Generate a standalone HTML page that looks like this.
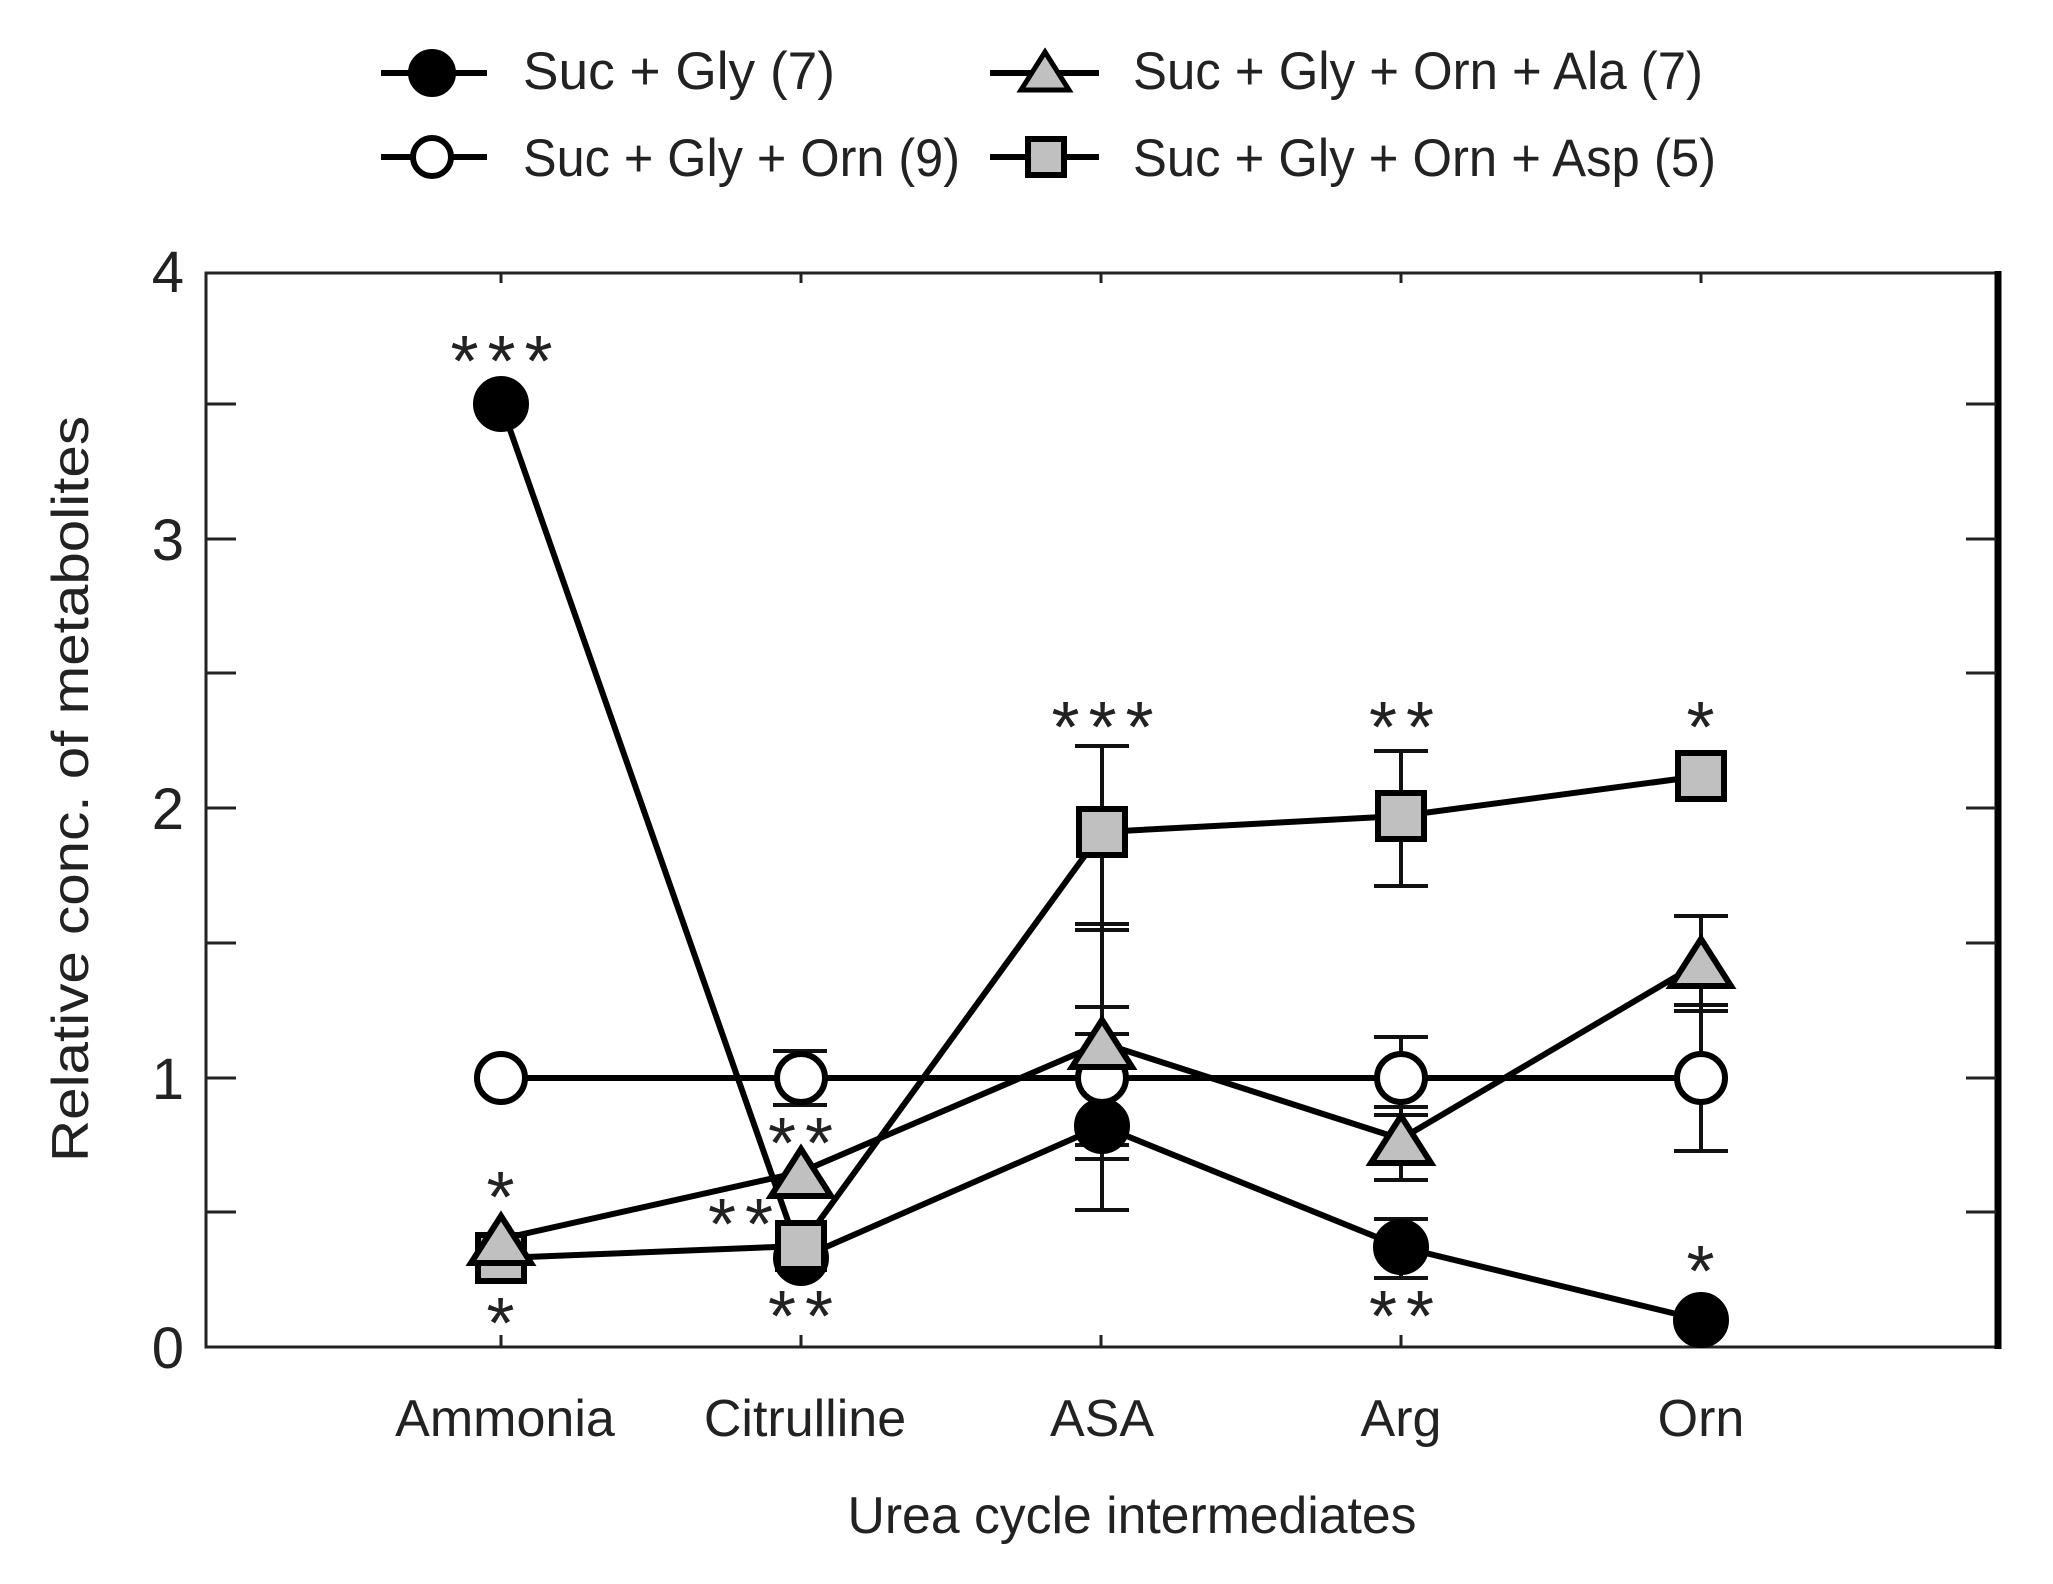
<!DOCTYPE html>
<html><head><meta charset="utf-8"><style>
html,body{margin:0;padding:0;background:#fff}
svg{display:block}
text{font-family:"Liberation Sans",Arial,sans-serif;fill:#222}
.st{font-size:72px;letter-spacing:9px;fill:#111}
</style></head><body>
<svg width="2053" height="1584" viewBox="0 0 2053 1584" xmlns="http://www.w3.org/2000/svg">
<!-- legend -->
<g stroke="#000" stroke-width="6">
<line x1="381" y1="73" x2="487" y2="73"/><circle cx="432" cy="73" r="21" fill="#000"/>
<line x1="381" y1="157" x2="487" y2="157"/><circle cx="432" cy="157" r="19" fill="#fff"/>
<line x1="990" y1="73" x2="1099" y2="73"/><polygon points="1045,52 1069,90 1021,90" fill="#c0c0c0" stroke-width="5"/>
<line x1="990" y1="157" x2="1099" y2="157"/><rect x="1028" y="139" width="36" height="36" fill="#c0c0c0"/>
</g>
<g font-size="53">
<text x="523" y="89" textLength="312" lengthAdjust="spacingAndGlyphs">Suc + Gly (7)</text>
<text x="523" y="176" textLength="437" lengthAdjust="spacingAndGlyphs">Suc + Gly + Orn (9)</text>
<text x="1133" y="89" textLength="570" lengthAdjust="spacingAndGlyphs">Suc + Gly + Orn + Ala (7)</text>
<text x="1133" y="176" textLength="583" lengthAdjust="spacingAndGlyphs">Suc + Gly + Orn + Asp (5)</text>
</g>
<!-- axes -->
<g stroke="#222" stroke-width="3" fill="none">
<rect x="206" y="273" width="1792" height="1074"/>
<line x1="1998" y1="271" x2="1998" y2="1349" stroke-width="7" stroke="#000"/>
<line x1="207" y1="1212" x2="236" y2="1212"/>
<line x1="207" y1="1078" x2="236" y2="1078"/>
<line x1="207" y1="943" x2="236" y2="943"/>
<line x1="207" y1="808" x2="236" y2="808"/>
<line x1="207" y1="673" x2="236" y2="673"/>
<line x1="207" y1="539" x2="236" y2="539"/>
<line x1="207" y1="404" x2="236" y2="404"/>
<line x1="1996" y1="1212" x2="1966" y2="1212"/>
<line x1="1996" y1="1078" x2="1966" y2="1078"/>
<line x1="1996" y1="943" x2="1966" y2="943"/>
<line x1="1996" y1="808" x2="1966" y2="808"/>
<line x1="1996" y1="673" x2="1966" y2="673"/>
<line x1="1996" y1="539" x2="1966" y2="539"/>
<line x1="1996" y1="404" x2="1966" y2="404"/>
<line x1="501" y1="273" x2="501" y2="283"/><line x1="801" y1="273" x2="801" y2="283"/><line x1="1101" y1="273" x2="1101" y2="283"/><line x1="1401" y1="273" x2="1401" y2="283"/><line x1="1701" y1="273" x2="1701" y2="283"/>
<line x1="501" y1="1347" x2="501" y2="1335"/><line x1="801" y1="1347" x2="801" y2="1335"/><line x1="1101" y1="1347" x2="1101" y2="1335"/><line x1="1401" y1="1347" x2="1401" y2="1335"/><line x1="1701" y1="1347" x2="1701" y2="1335"/>
</g>
<g font-size="58" text-anchor="end">
<text x="184" y="1368">0</text><text x="184" y="1099">1</text><text x="184" y="829">2</text><text x="184" y="560">3</text><text x="184" y="292">4</text>
</g>
<text transform="translate(88,789) rotate(-90)" font-size="52" text-anchor="middle" textLength="746" lengthAdjust="spacingAndGlyphs">Relative conc. of metabolites</text>
<g font-size="52" text-anchor="middle">
<text x="505" y="1436">Ammonia</text><text x="805" y="1436">Citrulline</text><text x="1102" y="1436">ASA</text><text x="1401" y="1436">Arg</text><text x="1701" y="1436">Orn</text>
<text x="1132" y="1533" textLength="569" lengthAdjust="spacingAndGlyphs">Urea cycle intermediates</text>
</g>
<!-- error bars -->
<g stroke="#111" stroke-width="4" fill="none">
<path d="M773,1051H827M773,1105H827M801,1051V1105"/>
<path d="M1102,746V1210M1075,746H1129M1075,924H1129M1075,930H1129M1075,1007H1129M1075,1034H1129M1075,1145H1129M1075,1159H1129M1075,1210H1129"/>
<path d="M1401,751V886M1374,751H1428M1374,886H1428"/>
<path d="M1401,1037V1180M1374,1037H1428M1374,1107H1428M1374,1115H1428M1374,1180H1428"/>
<path d="M1401,1219V1278M1374,1219H1428M1374,1278H1428"/>
<path d="M1701,916V1151M1674,916H1728M1674,1005H1728M1674,1011H1728M1674,1151H1728"/>
</g>
<!-- series lines -->
<g stroke="#000" stroke-width="6" fill="none">
<polyline points="501,404 801,1258 1102,1126 1401,1247 1701,1320"/>
<polyline points="501,1078 801,1078 1102,1078 1401,1078 1701,1078"/>
<polyline points="501,1239 801,1172 1102,1043 1401,1139 1701,962"/>
<polyline points="501,1258 801,1246 1102,832 1401,816 1701,776"/>
</g>
<!-- markers -->
<g stroke="#000" stroke-width="6">
<circle cx="501" cy="404" r="25" fill="#000"/>
<circle cx="801" cy="1258" r="25" fill="#000"/>
<circle cx="1102" cy="1126" r="25" fill="#000"/>
<circle cx="1401" cy="1247" r="25" fill="#000"/>
<circle cx="1701" cy="1320" r="25" fill="#000"/>
<g fill="#fff">
<circle cx="501" cy="1078" r="24"/><circle cx="801" cy="1078" r="24"/><circle cx="1102" cy="1078" r="24"/><circle cx="1401" cy="1078" r="24"/><circle cx="1701" cy="1078" r="24"/>
</g>
<g fill="#c0c0c0">
<rect x="478" y="1235" width="46" height="46"/>
<rect x="778" y="1223" width="46" height="46"/>
<rect x="1079" y="809" width="46" height="46"/>
<rect x="1378" y="793" width="46" height="46"/>
<rect x="1678" y="753" width="46" height="46"/>
<polygon points="501,1216 531,1263 471,1263"/>
<polygon points="801,1149 831,1196 771,1196"/>
<polygon points="1102,1020 1132,1067 1072,1067"/>
<polygon points="1401,1116 1431,1163 1371,1163"/>
<polygon points="1701,939 1731,986 1671,986"/>
</g>
</g>
<!-- significance -->
<g class="st" text-anchor="middle">
<text x="506" y="386">***</text>
<text x="505" y="1222">*</text>
<text x="505" y="1348">*</text>
<text x="805" y="1168">**</text>
<text x="745" y="1249">**</text>
<text x="805" y="1341">**</text>
<text x="1107" y="752">***</text>
<text x="1406" y="752">**</text>
<text x="1705" y="752">*</text>
<text x="1406" y="1341">**</text>
<text x="1705" y="1296">*</text>
</g>
</svg>
</body></html>
